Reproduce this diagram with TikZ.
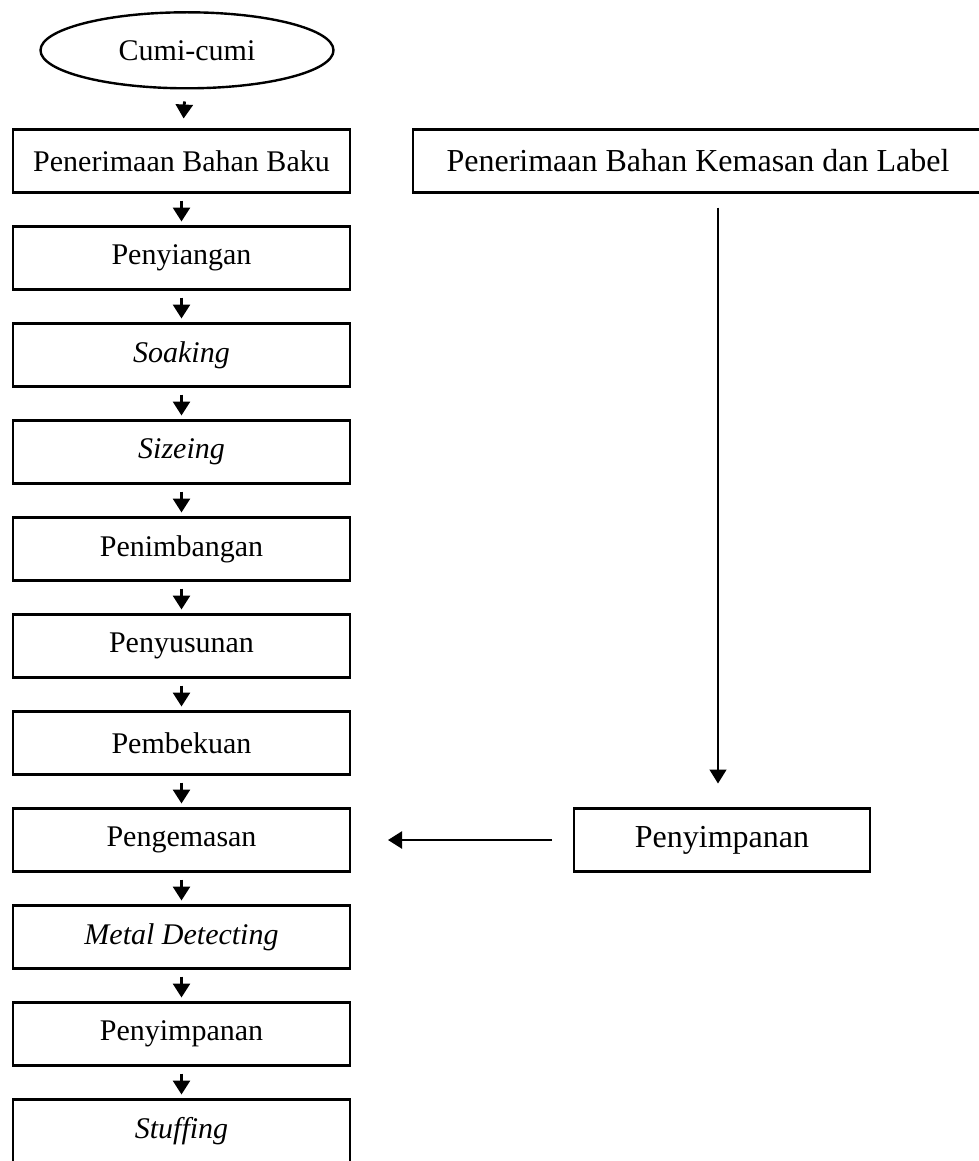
\documentclass[tikz,border=0pt]{standalone}
\usepackage{fontspec}
\setmainfont{Liberation Serif}
\usetikzlibrary{positioning,shapes.geometric,arrows.meta}
\tikzset{
    proses/.style={draw, line width=1.4pt, minimum width=168.5pt, minimum height=31.5pt, inner sep=0pt, outer sep=0pt, font=\fontsize{15}{18}\selectfont},
    panah/.style={-{Triangle[width=8.5pt,length=7pt]}, line width=1.4pt, shorten <=4pt, shorten >=2.5pt},
}

\begin{document}
\begin{tikzpicture}
            \useasboundingbox (0,0) rectangle (489.5pt,-580.5pt);
            \node[proses] (b1) at (90.75pt,-80.5pt) {Penerimaan Bahan Baku};
            \node[draw, ellipse, line width=1.2pt, minimum width=146.5pt, minimum height=38pt, font=\fontsize{15}{18}\selectfont, above=20pt of b1, xshift=2.75pt] (s0) {Cumi-cumi};
            \node[proses, below=17pt of b1] (b2) {Penyiangan};
            \node[proses, below=17pt of b2] (b3) {\itshape Soaking};
            \node[proses, below=17pt of b3] (b4) {\itshape Sizeing};
            \node[proses, below=17pt of b4] (b5) {Penimbangan};
            \node[proses, below=17pt of b5] (b6) {Penyusunan};
            \node[proses, below=17pt of b6] (b7) {Pembekuan};
            \node[proses, below=17pt of b7] (b8) {Pengemasan};
            \node[proses, below=17pt of b8] (b9) {\itshape Metal Detecting};
            \node[proses, below=17pt of b9] (b10) {Penyimpanan};
            \node[proses, below=17pt of b10] (b11) {\itshape Stuffing};
            \node[proses, minimum width=285pt, font=\fontsize{16}{19}\selectfont, right=31.5pt of b1] (k1) {Penerimaan Bahan Kemasan dan Label};
            \node[proses, minimum width=148pt, font=\fontsize{16}{19}\selectfont, right=112pt of b8] (k2) {Penyimpanan};
            \draw[panah, shorten <=6pt, shorten >=5.5pt] (s0) -- (b1);
            \draw[panah] (b1) -- (b2);
            \draw[panah] (b2) -- (b3);
            \draw[panah] (b3) -- (b4);
            \draw[panah] (b4) -- (b5);
            \draw[panah] (b5) -- (b6);
            \draw[panah] (b6) -- (b7);
            \draw[panah] (b7) -- (b8);
            \draw[panah] (b8) -- (b9);
            \draw[panah] (b9) -- (b10);
            \draw[panah] (b10) -- (b11);
            \draw[panah, line width=0.7pt, shorten <=7.5pt, shorten >=12.5pt] ([xshift=-2pt]k2.north |- k1.south) -- ([xshift=-2pt]k2.north);
            \draw[panah, line width=1.2pt, shorten <=11pt, shorten >=19pt] (k2.west) -- (b8.east);
\end{tikzpicture}
\end{document}
